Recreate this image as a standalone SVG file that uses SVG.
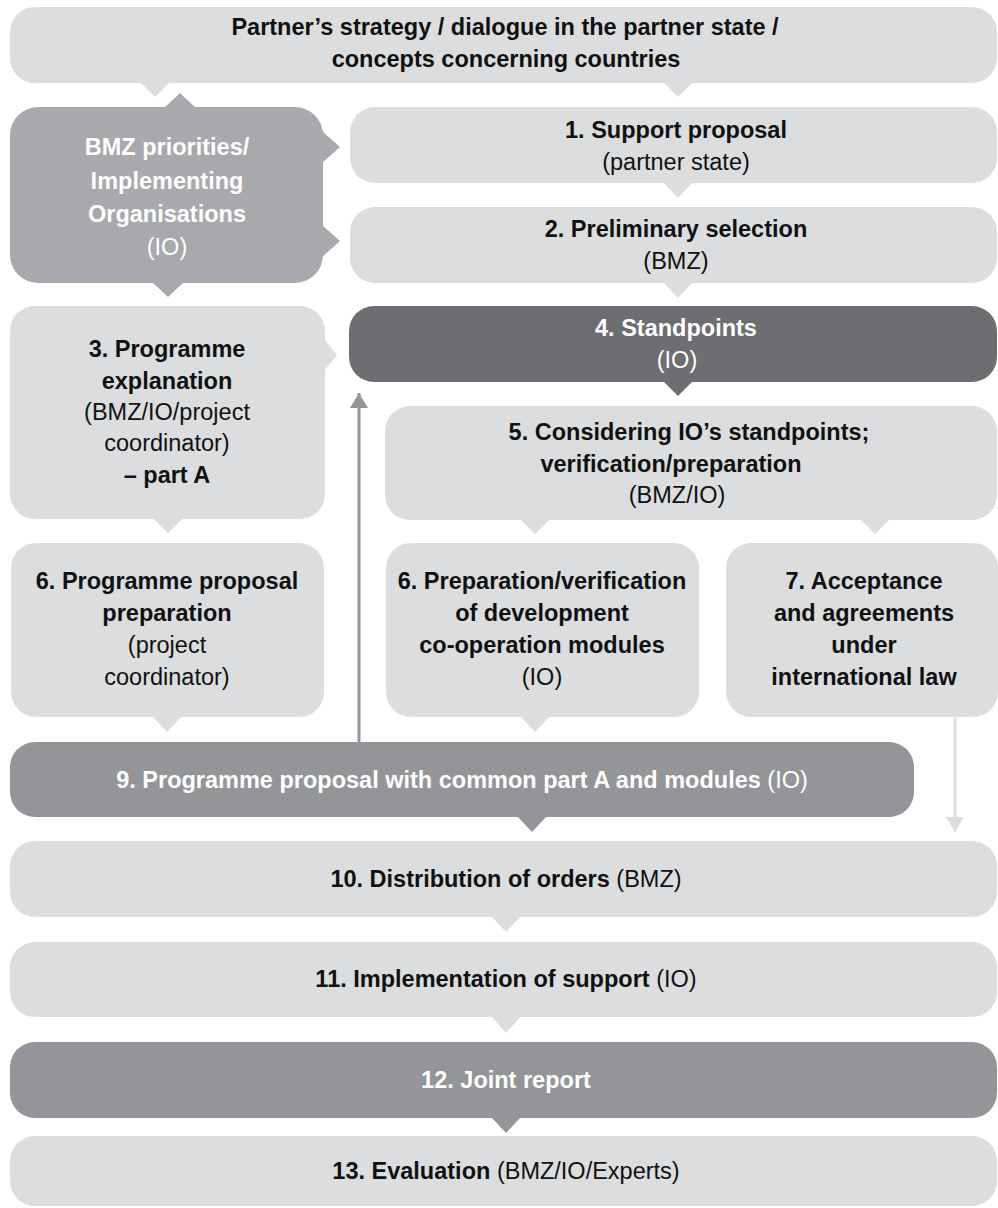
<svg xmlns="http://www.w3.org/2000/svg" width="998" height="1208" viewBox="0 0 998 1208">
<defs>
<style>
text{font-family:"Liberation Sans",Arial,Helvetica,sans-serif;font-size:23.5px;text-anchor:middle;fill:#111;}
.b{font-weight:bold;}
.r{font-weight:normal;}
.w{fill:#fff;}
.lt{fill:#dcdddf;}
.md{fill:#a7a9ac;}
.dk{fill:#6d6e71;}
.gr{fill:#939598;}
</style>
<marker id="ahGray" markerWidth="15" markerHeight="18" refX="15" refY="9" orient="auto" markerUnits="userSpaceOnUse" viewBox="0 0 15 18">
<path d="M0,0 L15,9 L0,18 Z" fill="#939598"/>
</marker>
<marker id="ahLight" markerWidth="15" markerHeight="18" refX="15" refY="9" orient="auto" markerUnits="userSpaceOnUse" viewBox="0 0 15 18">
<path d="M0,0 L15,9 L0,18 Z" fill="#dcdddf"/>
</marker>
</defs>
<rect width="998" height="1208" fill="#fff"/>

<g id="node-top">
<rect class="lt" x="10" y="7" width="987" height="76" rx="25"/>
<path class="lt" d="M140,82 L170,82 L155,97 Z M663,82 L693,82 L678,97 Z"/>
<text class="b" x="505" y="35">Partner’s strategy / dialogue in the partner state /</text>
<text class="b" x="506" y="67">concepts concerning countries</text>
</g>

<g id="node-bmz">
<rect class="md" x="10" y="107" width="313" height="176" rx="28"/>
<path class="md" d="M164,108 L196,108 L180,93 Z M322,131 L322,163 L340,147 Z M322,225 L322,257 L340,241 Z M152,282 L184,282 L168,297 Z"/>
<text class="b w" x="167" y="155">BMZ priorities/</text>
<text class="b w" x="167" y="189">Implementing</text>
<text class="b w" x="167" y="222">Organisations</text>
<text class="r w" x="167" y="255">(IO)</text>
</g>

<g id="node-1">
<rect class="lt" x="350" y="107" width="647" height="76" rx="25"/>
<path class="lt" d="M663,182 L693,182 L678,198 Z"/>
<text class="b" x="676" y="138">1. Support proposal</text>
<text class="r" x="676" y="170">(partner state)</text>
</g>

<g id="node-2">
<rect class="lt" x="350" y="207" width="647" height="76" rx="25"/>
<path class="lt" d="M663,282 L693,282 L678,298 Z"/>
<text class="b" x="676" y="237">2. Preliminary selection</text>
<text class="r" x="676" y="269">(BMZ)</text>
</g>

<g id="node-3">
<rect class="lt" x="10" y="306" width="315" height="213" rx="25"/>
<path class="lt" d="M324,339 L324,371 L337,355 Z M153,518 L183,518 L168,533 Z"/>
<text class="b" x="167" y="357">3. Programme</text>
<text class="b" x="167" y="389">explanation</text>
<text class="r" x="167" y="420">(BMZ/IO/project</text>
<text class="r" x="167" y="451">coordinator)</text>
<text class="b" x="167" y="483">– part A</text>
</g>

<g id="node-4">
<rect class="dk" x="349" y="306" width="648" height="76" rx="25"/>
<path class="dk" d="M663,381 L693,381 L678,396 Z"/>
<text class="b w" x="676" y="336">4. Standpoints</text>
<text class="r w" x="677" y="368">(IO)</text>
</g>

<g id="node-5">
<rect class="lt" x="385" y="406" width="612" height="114" rx="25"/>
<path class="lt" d="M520,519 L550,519 L535,534 Z M860,519 L890,519 L875,534 Z"/>
<text class="b" x="689" y="440">5. Considering IO’s standpoints;</text>
<text class="b" x="671" y="472">verification/preparation</text>
<text class="r" x="677" y="503">(BMZ/IO)</text>
</g>

<g id="node-6a">
<rect class="lt" x="11" y="543" width="313" height="174" rx="25"/>
<path class="lt" d="M152,716 L182,716 L167,732 Z"/>
<text class="b" x="167" y="589">6. Programme proposal</text>
<text class="b" x="167" y="621">preparation</text>
<text class="r" x="167" y="653">(project</text>
<text class="r" x="167" y="685">coordinator)</text>
</g>

<g id="node-6b">
<rect class="lt" x="386" y="543" width="313" height="174" rx="25"/>
<path class="lt" d="M520,716 L550,716 L535,732 Z"/>
<text class="b" x="542" y="589">6. Preparation/verification</text>
<text class="b" x="542" y="621">of development</text>
<text class="b" x="542" y="653">co-operation modules</text>
<text class="r" x="542" y="685">(IO)</text>
</g>

<g id="node-7">
<rect class="lt" x="726" y="543" width="272" height="174" rx="25"/>
<text class="b" x="864" y="589">7. Acceptance</text>
<text class="b" x="864" y="621">and agreements</text>
<text class="b" x="864" y="653">under</text>
<text class="b" x="864" y="685">international law</text>
</g>

<g id="node-9">
<rect class="gr" x="10" y="742" width="904" height="75" rx="25"/>
<path class="gr" d="M517,816 L547,816 L532,832 Z"/>
<text class="b w" x="462" y="788">9. Programme proposal with common part A and modules <tspan class="r">(IO)</tspan></text>
</g>

<g id="node-10">
<rect class="lt" x="10" y="841" width="987" height="76" rx="25"/>
<path class="lt" d="M491,916 L521,916 L506,932 Z"/>
<text class="b" x="506" y="887">10. Distribution of orders <tspan class="r">(BMZ)</tspan></text>
</g>

<g id="node-11">
<rect class="lt" x="10" y="942" width="987" height="75" rx="25"/>
<path class="lt" d="M491,1016 L521,1016 L506,1033 Z"/>
<text class="b" x="506" y="987">11. Implementation of support <tspan class="r">(IO)</tspan></text>
</g>

<g id="node-12">
<rect class="gr" x="10" y="1042" width="987" height="76" rx="25"/>
<path class="gr" d="M491,1117 L521,1117 L506,1133 Z"/>
<text class="b w" x="506" y="1088">12. Joint report</text>
</g>

<g id="node-13">
<rect class="lt" x="10" y="1136" width="987" height="70" rx="25"/>
<text class="b" x="506" y="1179">13. Evaluation <tspan class="r">(BMZ/IO/Experts)</tspan></text>
</g>

<g id="connectors">
<line x1="359" y1="742" x2="359" y2="393" stroke="#939598" stroke-width="3" marker-end="url(#ahGray)"/>
<line x1="955" y1="717" x2="955" y2="832" stroke="#dcdddf" stroke-width="3" marker-end="url(#ahLight)"/>
</g>
</svg>
